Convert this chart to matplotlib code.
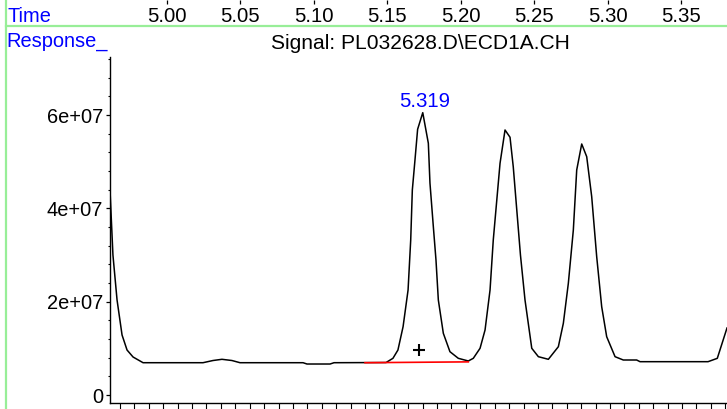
import numpy as np
import matplotlib
matplotlib.use('Agg')
import matplotlib.pyplot as plt
from matplotlib.lines import Line2D
from matplotlib.ticker import MultipleLocator

plt.rcParams['font.family'] = ['Liberation Sans', 'DejaVu Sans']

# chromatogram trace (time in min, response in counts)
time = [4.9612, 4.9632, 4.9660, 4.9694, 4.9728, 4.9769, 4.9837, 5.0245, 5.0313,
        5.0374, 5.0442, 5.0497, 5.0926, 5.0953, 5.1110, 5.1137, 5.1491, 5.1538,
        5.1572, 5.1607, 5.1641, 5.1659, 5.1670, 5.1688, 5.1706, 5.1741, 5.1779,
        5.1790, 5.1813, 5.1831, 5.1847, 5.1881, 5.1926, 5.1983, 5.2051, 5.2085,
        5.2131, 5.2165, 5.2199, 5.2221, 5.2267, 5.2301, 5.2335, 5.2357, 5.2406,
        5.2437, 5.2483, 5.2528, 5.2596, 5.2664, 5.2698, 5.2732, 5.2766, 5.2789,
        5.2823, 5.2857, 5.2891, 5.2925, 5.2959, 5.2993, 5.3050, 5.3106, 5.3197,
        5.3220, 5.3683, 5.3746, 5.3812]
response = [4.393e7, 3.000e7, 2.036e7, 1.286e7, 9.64e6, 8.14e6, 6.92e6, 6.92e6, 7.39e6,
            7.65e6, 7.39e6, 6.92e6, 6.92e6, 6.64e6, 6.64e6, 6.92e6, 6.96e6, 7.86e6,
            9.64e6, 1.464e7, 2.250e7, 3.322e7, 4.393e7, 5.036e7, 5.694e7, 6.050e7, 5.394e7,
            4.543e7, 3.607e7, 2.893e7, 2.036e7, 1.322e7, 9.28e6, 7.86e6, 7.29e6, 7.86e6,
            1.001e7, 1.393e7, 2.250e7, 3.322e7, 4.965e7, 5.679e7, 5.523e7, 4.892e7, 3.000e7,
            2.036e7, 1.001e7, 8.21e6, 7.65e6, 1.035e7, 1.537e7, 2.394e7, 3.536e7, 4.822e7,
            5.379e7, 5.107e7, 4.250e7, 2.964e7, 1.892e7, 1.249e7, 8.21e6, 7.50e6, 7.50e6,
            7.14e6, 7.14e6, 7.86e6, 1.436e7]

# integration baseline and marker of the labelled peak
baseline_t = [5.1348, 5.2051]
baseline_v = [6.92e6, 7.10e6]
marker_t = [5.1715]
marker_v = [9.64e6]
peak_t = 5.1741
peak_v = 6.050e7
peak_label = "5.319"

time_ticks = [5.00, 5.05, 5.10, 5.15, 5.20, 5.25, 5.30, 5.35]
time_labels = ["5.00", "5.05", "5.10", "5.15", "5.20", "5.25", "5.30", "5.35"]
resp_ticks = [0, 2e7, 4e7, 6e7]
resp_labels = ["0", "2e+07", "4e+07", "6e+07"]

W, H = 727, 409
xlim = (4.9612, 5.3812)
ylim = (-1.714e6, 7.243e7)
fs = 14.4
blue = '#0000ff'

fig = plt.figure(figsize=(W / 100, H / 100), dpi=100)

ax = fig.add_axes([110 / W, 6 / H, 617 / W, 346 / H])
ax.plot(time, response, color='black', lw=1.1)
ax.plot(baseline_t, baseline_v, color='#ff0000', lw=1.2)
ax.plot(marker_t, marker_v, marker='+', color='black', ms=8.5, mew=1.5, ls='none')
ax.annotate(peak_label, (peak_t, peak_v), xytext=(1, 4), textcoords='offset points',
            ha='center', va='baseline', color=blue, fontsize=14.7)
ax.set_xlim(*xlim)
ax.set_ylim(*ylim)
for s in ['top', 'right']:
    ax.spines[s].set_visible(False)
for s in ['left', 'bottom']:
    ax.spines[s].set_linewidth(1.0)

ax.set_yticks(resp_ticks)
ax.set_yticklabels(resp_labels)
ax.yaxis.set_minor_locator(MultipleLocator(4e6))
ax.tick_params(axis='y', which='major', length=2.6, width=0.9, labelsize=fs, pad=2.5)
ax.tick_params(axis='y', which='minor', length=1.5, width=0.8)
# small unlabelled ticks along the bottom
ax.set_xticks(np.arange(4.968, 5.381, 0.00981))
ax.set_xticklabels([])
ax.tick_params(axis='x', which='major', length=4.5, width=0.8)

# time scale strip at the top of the figure
tax = fig.add_axes([110 / W, 0.999, 617 / W, 0.001])
tax.set_xlim(*xlim)
tax.set_xticks(time_ticks)
tax.set_xticklabels(time_labels)
tax.set_yticks([])
tax.patch.set_visible(False)
for s in tax.spines.values():
    s.set_visible(False)
tax.tick_params(axis='x', length=3, width=0.9, labelsize=14.7, pad=1.7)

# light green frame lines
green = '#98ee98'
fig.add_artist(Line2D([6 / W, 1], [1 - 26 / H] * 2, transform=fig.transFigure, color=green, lw=1.6))
fig.add_artist(Line2D([6 / W] * 2, [0, 1], transform=fig.transFigure, color=green, lw=1.6))

fig.text(7 / W, 1 - 21.7 / H, "Time", color=blue, fontsize=fs, va='baseline')
fig.text(6 / W, 1 - 46.7 / H, "Response_", color=blue, fontsize=fs, va='baseline')
fig.text(420 / W, 1 - 49.3 / H, "Signal: PL032628.D\\ECD1A.CH", color='black',
         fontsize=15.1, ha='center', va='baseline')

fig.savefig('out.png', dpi=100)
